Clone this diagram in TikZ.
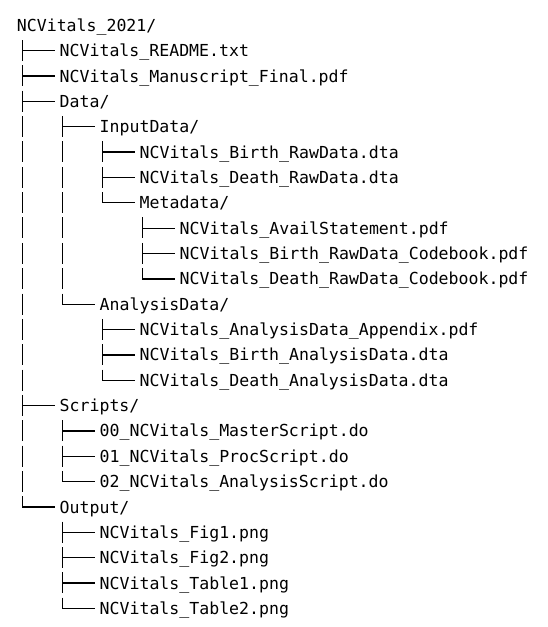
\documentclass[tikz,border=0pt]{standalone}
\usepackage{fontspec}
\setmonofont{DejaVu Sans Mono}
\usetikzlibrary{calc}

\tikzset{
  entry/.style={anchor=west, inner sep=0pt, text height=16.5pt, text depth=4.5pt,
    font=\ttfamily\fontsize{16.55}{20}\selectfont},
  trunk/.style={line width=1.3pt, dash pattern=on 21pt off 4.35pt},
  twig/.style={line width=1.3pt, line cap=rect},
}

\begin{document}
\begin{tikzpicture}[x=1pt, y=-25.35pt]

        \path[use as bounding box] (0,0) rectangle (547pt,-627pt);

        \node[entry] (root) at (16.7, 1) {NCVitals\_2021/};
        \node[entry] (readme) at (59.5, 2) {NCVitals\_README.txt};
        \node[entry] (manuscript) at (59.5, 3) {NCVitals\_Manuscript\_Final.pdf};
        \node[entry] (data) at (59.5, 4) {Data/};
        \node[entry] (input) at (99.5, 5) {InputData/};
        \node[entry] (birthraw) at (139.5, 6) {NCVitals\_Birth\_RawData.dta};
        \node[entry] (deathraw) at (139.5, 7) {NCVitals\_Death\_RawData.dta};
        \node[entry] (meta) at (139.5, 8) {Metadata/};
        \node[entry] (avail) at (179.5, 9) {NCVitals\_AvailStatement.pdf};
        \node[entry] (birthcode) at (179.5, 10) {NCVitals\_Birth\_RawData\_Codebook.pdf};
        \node[entry] (deathcode) at (179.5, 11) {NCVitals\_Death\_RawData\_Codebook.pdf};
        \node[entry] (analysis) at (99.5, 12) {AnalysisData/};
        \node[entry] (appendix) at (139.5, 13) {NCVitals\_AnalysisData\_Appendix.pdf};
        \node[entry] (birthana) at (139.5, 14) {NCVitals\_Birth\_AnalysisData.dta};
        \node[entry] (deathana) at (139.5, 15) {NCVitals\_Death\_AnalysisData.dta};
        \node[entry] (scripts) at (59.5, 16) {Scripts/};
        \node[entry] (master) at (99.5, 17) {00\_NCVitals\_MasterScript.do};
        \node[entry] (proc) at (99.5, 18) {01\_NCVitals\_ProcScript.do};
        \node[entry] (anascript) at (99.5, 19) {02\_NCVitals\_AnalysisScript.do};
        \node[entry] (output) at (59.5, 20) {Output/};
        \node[entry] (fig1) at (99.5, 21) {NCVitals\_Fig1.png};
        \node[entry] (fig2) at (99.5, 22) {NCVitals\_Fig2.png};
        \node[entry] (table1) at (99.5, 23) {NCVitals\_Table1.png};
        \node[entry] (table2) at (99.5, 24) {NCVitals\_Table2.png};

        % where each folder's vertical line runs
        \foreach \p/\o in {root/6, data/3.2, input/3.2, meta/3.2, analysis/3.2, scripts/3.2, output/3.2}
          \coordinate (\p-bar) at ($(\p.west)+(\o,0)$);

        \foreach \p/\f/\l in {root/readme/output, data/input/analysis, input/birthraw/meta,
                              meta/avail/deathcode, analysis/appendix/deathana,
                              scripts/master/anascript, output/fig1/table2}
          \draw[trunk] (\p-bar |- \f.north) -- (\p-bar |- \l.west);

        \foreach \p/\c in {root/readme, root/manuscript, root/data, root/scripts, root/output,
                           data/input, data/analysis,
                           input/birthraw, input/deathraw, input/meta,
                           meta/avail, meta/birthcode, meta/deathcode,
                           analysis/appendix, analysis/birthana, analysis/deathana,
                           scripts/master, scripts/proc, scripts/anascript,
                           output/fig1, output/fig2, output/table1, output/table2}
          \draw[twig] (\p-bar |- \c.west) -- ($(\c.west)+(-5,0)$);

\end{tikzpicture}
\end{document}
